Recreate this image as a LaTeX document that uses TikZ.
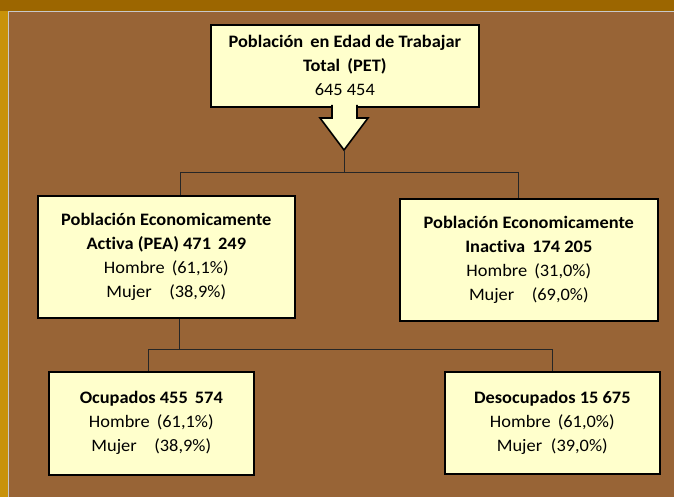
\documentclass[tikz,border=0pt]{standalone}
\usepackage{fontspec}
\setmainfont{Carlito}[FakeStretch=1.05, Ligatures=NoCommon]
\usepackage{xcolor}
\definecolor{FrameGold}{RGB}{156,102,0}
\definecolor{SideGold}{RGB}{200,146,10}
\definecolor{BoardBrown}{RGB}{152,100,54}
\definecolor{BoxCream}{RGB}{255,255,204}
\definecolor{EdgeGray}{RGB}{200,200,200}

\tikzset{
    databox/.style={draw=black, line width=1.6pt, fill=BoxCream, align=center,
        font=\fontsize{17.5}{24}\selectfont, anchor=north west, inner sep=0pt},
    branch/.style={draw=black!85, line width=0.9pt}
}

\begin{document}
\begin{tikzpicture}[x=1pt,y=-1pt]
            % fondo
            \useasboundingbox (0,0) rectangle (674,497);
            \fill[FrameGold] (0,0) rectangle (674,11);
            \fill[SideGold] (0,11) rectangle (8,497);
            \fill[BoardBrown] (8,11) rectangle (674,497);
            \draw[EdgeGray, line width=1.2pt] (8.6,497) -- (8.6,11.6) -- (674,11.6);
            % cajas
            \node[databox, minimum width=268pt, minimum height=82pt] (pet) at (210,24)
                {\textbf{Población\, en Edad de Trabajar}\\ \textbf{Total\, (PET)}\\ 645 454};
            \node[databox, minimum width=257pt, minimum height=122pt] (pea) at (37,195)
                {\textbf{Población Economicamente}\\ \textbf{Activa (PEA) 471\, 249}\\ Hombre\, (61,1\%)\\ Mujer\quad (38,9\%)};
            \node[databox, minimum width=258pt, minimum height=122pt] (pei) at (399,198)
                {\textbf{Población Economicamente}\\ \textbf{Inactiva\, 174 205}\\ Hombre\, (31,0\%)\\ Mujer\quad (69,0\%)};
            \node[databox, minimum width=205pt, minimum height=103pt] (ocu) at (48,371)
                {\textbf{Ocupados 455\, 574}\\ Hombre\, (61,1\%)\\ Mujer\quad (38,9\%)};
            \node[databox, minimum width=215pt, minimum height=102pt] (des) at (444,371)
                {\textbf{Desocupados 15 675}\\ Hombre\, (61,0\%)\\ Mujer\enspace (39,0\%)};
            % flecha
            \coordinate (tip) at (344,150);
            \draw[line width=1.6pt, fill=BoxCream, line join=miter]
                (332,105) -- (332,118) -- (320,118) -- (tip) -- (368,118) -- (357,118) -- (357,105);
            % ramas
            \coordinate (top) at (344,172);
            \coordinate (mid) at (179,349);
            \draw[branch] (tip) -- (top);
            \draw[branch] (top) -| ([xshift=-115pt]pea.north east);
            \draw[branch] (top) -| ([xshift=-140pt]pei.north east);
            \draw[branch] ([xshift=142pt]pea.south west) -- (mid);
            \draw[branch] (148,349) -- (552,349);
            \draw[branch] (148,349) -- (148,371);
            \draw[branch] (552,349) -- (552,371);
\end{tikzpicture}
\end{document}
